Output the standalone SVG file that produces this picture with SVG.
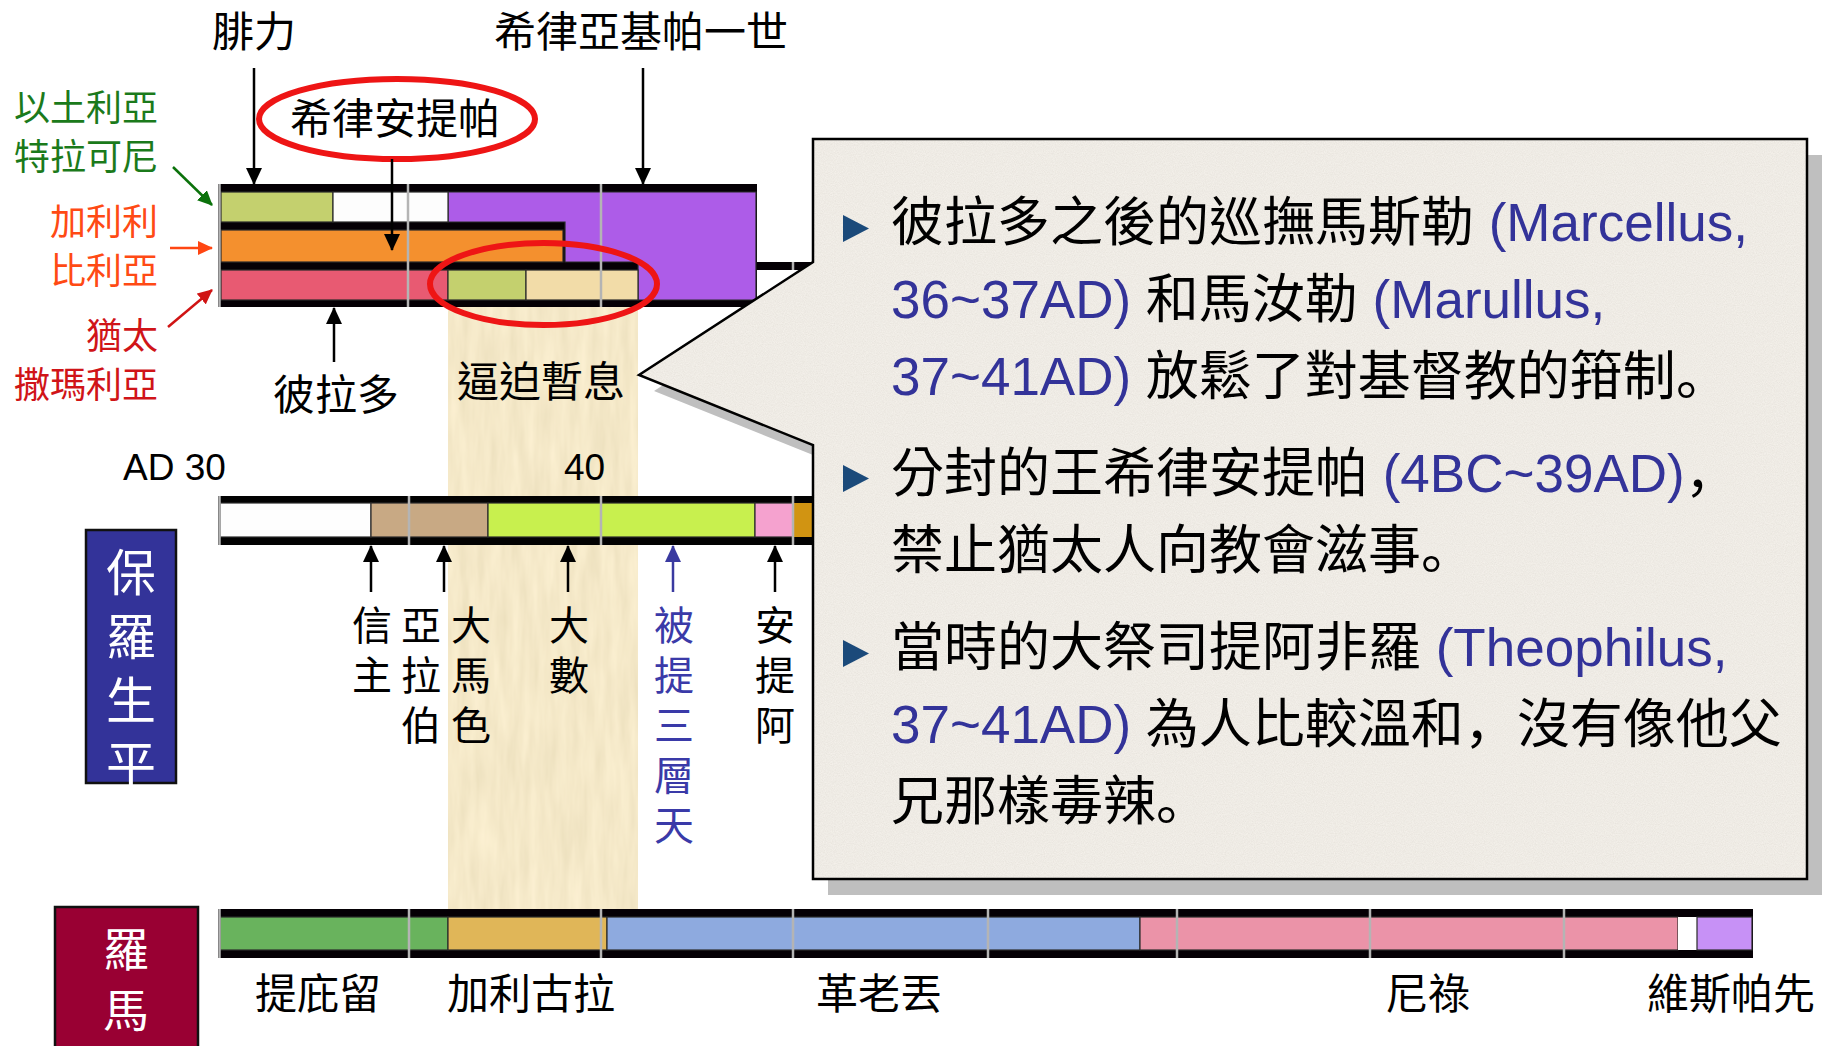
<svg xmlns="http://www.w3.org/2000/svg" width="1822" height="1046" viewBox="0 0 1822 1046">
<defs>
<style>
text{font-family:"Liberation Sans","Noto Sans CJK TC",sans-serif}
.cjk{font-family:"Noto Sans CJK TC",sans-serif}
.lbl{font-size:42px;fill:#000}
.side{font-size:36px;text-anchor:end}
.vt{font-family:"Noto Sans CJK TC",sans-serif;writing-mode:vertical-rl;text-orientation:upright}
.vl{font-size:40px;letter-spacing:10px;fill:#000}
.call{font-size:53px;fill:#000}
.b{fill:#333399}
.p{font-family:"Noto Sans CJK JP",sans-serif}
.grid{stroke:#b4b4b4;stroke-width:2.5}
.cell{stroke:#2a2a2a;stroke-width:1.2}
.arr{stroke:#000;stroke-width:2.5;fill:none}
.wt{fill:#fff}
</style>
<marker id="ah" markerUnits="userSpaceOnUse" viewBox="0 0 17 16" markerWidth="17" markerHeight="16" refX="16" refY="8" orient="auto"><path d="M0,0 L17,8 L0,16 z" fill="#000"/></marker>
<marker id="ahb" markerUnits="userSpaceOnUse" viewBox="0 0 17 16" markerWidth="17" markerHeight="16" refX="16" refY="8" orient="auto"><path d="M0,0 L17,8 L0,16 z" fill="#3a3aa0"/></marker>
<marker id="ahg" markerUnits="userSpaceOnUse" viewBox="0 0 15 14" markerWidth="15" markerHeight="14" refX="14" refY="7" orient="auto"><path d="M0,0 L15,7 L0,14 z" fill="#0b720b"/></marker>
<marker id="aho" markerUnits="userSpaceOnUse" viewBox="0 0 15 14" markerWidth="15" markerHeight="14" refX="14" refY="7" orient="auto"><path d="M0,0 L15,7 L0,14 z" fill="#ff4612"/></marker>
<marker id="ahr" markerUnits="userSpaceOnUse" viewBox="0 0 15 14" markerWidth="15" markerHeight="14" refX="14" refY="7" orient="auto"><path d="M0,0 L15,7 L0,14 z" fill="#d01414"/></marker>
<filter id="pap" x="0" y="0" width="100%" height="100%">
<feTurbulence type="fractalNoise" baseFrequency="0.1 0.015" numOctaves="3" seed="4" result="n"/>
<feColorMatrix in="n" type="matrix" values="0.16 0 0 0 0.83  0.16 0 0 0 0.73  0.16 0 0 0 0.5  0 0 0 0 1" result="c"/>
<feComposite in="c" in2="SourceGraphic" operator="in"/>
</filter>
<filter id="spk" x="0" y="0" width="100%" height="100%">
<feTurbulence type="fractalNoise" baseFrequency="0.9" numOctaves="2" seed="7" result="n"/>
<feColorMatrix in="n" type="matrix" values="0.14 0 0 0 0.79  0.14 0 0 0 0.76  0.14 0 0 0 0.71  0 0 0 0 1" result="c"/>
<feComposite in="c" in2="SourceGraphic" operator="in"/>
</filter>
</defs>

<rect width="1822" height="1046" fill="#fff"/>

<!-- papyrus column -->
<g id="papyrus">
<rect x="448" y="307" width="190" height="602" fill="#e8cf96"/>
<rect x="448" y="307" width="190" height="602" fill="#e8cf96" filter="url(#pap)"/>
</g>

<!-- top timeline block -->
<g id="top-block">
<rect x="218" y="184" width="539" height="123" fill="#050005"/>
<path d="M448,192 H756 V300 H638 V262 H565 V222 H448 Z" fill="#ad5ce8" class="cell"/>
<rect x="221" y="192" width="112" height="30" fill="#c4d06e" class="cell"/>
<rect x="333" y="192" width="115" height="30" fill="#fdfdfd" class="cell"/>
<rect x="221" y="230" width="342" height="32" fill="#f4902e" class="cell"/>
<rect x="221" y="270" width="227" height="30" fill="#e85a72" class="cell"/>
<rect x="448" y="270" width="78" height="30" fill="#c4d06e" class="cell"/>
<rect x="526" y="270" width="112" height="30" fill="#f2dca8" class="cell"/>
<rect x="757" y="262" width="60" height="8" fill="#050005"/>
<line x1="219.5" y1="184" x2="219.5" y2="307" class="grid"/>
<line x1="408" y1="184" x2="408" y2="307" class="grid"/>
<line x1="601" y1="184" x2="601" y2="307" class="grid"/>
<line x1="793" y1="262" x2="793" y2="270" class="grid"/>
</g>

<!-- middle bar: Paul's life -->
<g id="paul-bar">
<rect x="218" y="496" width="602" height="49" fill="#020202"/>
<rect x="220" y="503" width="151" height="34" fill="#fefefe" class="cell"/>
<rect x="371" y="503" width="117" height="34" fill="#c8a984" class="cell"/>
<rect x="488" y="503" width="267" height="34" fill="#c8f04e" class="cell"/>
<rect x="755" y="503" width="38" height="34" fill="#f5a2cf" class="cell"/>
<rect x="793" y="503" width="27" height="34" fill="#d19412"/>
<line x1="219.5" y1="496" x2="219.5" y2="545" class="grid"/>
<line x1="409" y1="496" x2="409" y2="545" class="grid"/>
<line x1="601" y1="496" x2="601" y2="545" class="grid"/>
<line x1="793" y1="496" x2="793" y2="545" class="grid"/>
</g>

<!-- bottom bar: Rome -->
<g id="rome-bar">
<rect x="218" y="909" width="1535" height="49" fill="#050005"/>
<rect x="220" y="917" width="228" height="33" fill="#69b35d" class="cell"/>
<rect x="448" y="917" width="159" height="33" fill="#e0b658" class="cell"/>
<rect x="607" y="917" width="533" height="33" fill="#8eaadf" class="cell"/>
<rect x="1140" y="917" width="538" height="33" fill="#eb93a8" class="cell"/>
<rect x="1678" y="917" width="19" height="33" fill="#ffffff"/>
<rect x="1697" y="917" width="55" height="33" fill="#c791f6" class="cell"/>
<line x1="219.5" y1="909" x2="219.5" y2="958" class="grid"/>
<line x1="409" y1="909" x2="409" y2="958" class="grid"/>
<line x1="601" y1="909" x2="601" y2="958" class="grid"/>
<line x1="793" y1="909" x2="793" y2="958" class="grid"/>
<line x1="988" y1="909" x2="988" y2="958" class="grid"/>
<line x1="1177" y1="909" x2="1177" y2="958" class="grid"/>
<line x1="1370" y1="909" x2="1370" y2="958" class="grid"/>
<line x1="1564" y1="909" x2="1564" y2="958" class="grid"/>
</g>

<!-- red highlight ellipses -->
<g id="ellipse-herod" fill="none" stroke="#ee1515" stroke-width="6">
<ellipse cx="397" cy="119" rx="138" ry="40"/>
</g>
<g id="ellipse-peace" fill="none" stroke="#ee1515" stroke-width="6">
<ellipse cx="543.5" cy="284" rx="113.5" ry="41"/>
</g>

<!-- connectors -->
<g id="connectors">
<line x1="254" y1="68" x2="254" y2="184" class="arr" marker-end="url(#ah)"/>
<line x1="643" y1="68" x2="643" y2="184" class="arr" marker-end="url(#ah)"/>
<line x1="392" y1="159" x2="392" y2="250" class="arr" marker-end="url(#ah)"/>
<line x1="334" y1="362" x2="334" y2="308" class="arr" marker-end="url(#ah)"/>
<line x1="173" y1="167" x2="212" y2="205" stroke="#0b720b" stroke-width="2.5" marker-end="url(#ahg)"/>
<line x1="170" y1="248" x2="212" y2="248" stroke="#ff4612" stroke-width="2.5" marker-end="url(#aho)"/>
<line x1="168" y1="327" x2="212" y2="290" stroke="#d01414" stroke-width="2.5" marker-end="url(#ahr)"/>
<line x1="371" y1="592" x2="371" y2="546" class="arr" marker-end="url(#ah)"/>
<line x1="444" y1="592" x2="444" y2="546" class="arr" marker-end="url(#ah)"/>
<line x1="568" y1="592" x2="568" y2="546" class="arr" marker-end="url(#ah)"/>
<line x1="673" y1="592" x2="673" y2="546" stroke="#3a3aa0" stroke-width="2.5" marker-end="url(#ahb)"/>
<line x1="775" y1="592" x2="775" y2="546" class="arr" marker-end="url(#ah)"/>
</g>

<!-- top labels -->
<g id="label-philip"><text x="212" y="47" class="lbl cjk">腓力</text></g>
<g id="label-agrippa"><text x="494" y="47" class="lbl cjk">希律亞基帕一世</text></g>
<g id="label-antipas"><text x="395" y="134" class="lbl cjk" text-anchor="middle">希律安提帕</text></g>
<g id="label-pilate"><text x="336" y="410" class="lbl cjk" text-anchor="middle">彼拉多</text></g>
<g id="label-respite"><text x="541" y="397" class="lbl cjk" text-anchor="middle" fill="#3838a8">逼迫暫息</text></g>

<!-- region labels -->
<g id="label-ituraea" fill="#1b7a1b">
<text x="158" y="121" class="side cjk">以土利亞</text>
<text x="158" y="170" class="side cjk">特拉可尼</text>
</g>
<g id="label-galilee" fill="#ff4a14">
<text x="158" y="235" class="side cjk">加利利</text>
<text x="158" y="284" class="side cjk">比利亞</text>
</g>
<g id="label-judea" fill="#d01418">
<text x="158" y="349" class="side cjk">猶太</text>
<text x="158" y="398" class="side cjk">撒瑪利亞</text>
</g>

<!-- years -->
<g id="years" font-size="37">
<text x="123" y="480">AD 30</text>
<text x="564" y="480">40</text>
</g>

<!-- Paul's life box -->
<g id="paul-box">
<rect x="86" y="530" width="90" height="253" fill="#333399" stroke="#111" stroke-width="2.5"/>
<text x="131" y="547" class="vt wt" font-size="50" letter-spacing="14">保羅生平</text>
</g>

<!-- event labels (vertical) -->
<g id="ev-conversion"><text x="372" y="605" class="vt vl">信主</text></g>
<g id="ev-arabia"><text x="421" y="605" class="vt vl">亞拉伯</text></g>
<g id="ev-damascus"><text x="471" y="605" class="vt vl">大馬色</text></g>
<g id="ev-tarsus"><text x="569" y="605" class="vt vl">大數</text></g>
<g id="ev-third-heaven"><text x="674" y="605" class="vt vl" style="fill:#3a3aa8">被提三層天</text></g>
<g id="ev-antioch"><text x="775" y="605" class="vt vl">安提阿</text></g>

<!-- Rome box -->
<g id="rome-box">
<rect x="55" y="907" width="143" height="150" fill="#990033" stroke="#111" stroke-width="2.5"/>
<text x="126" y="926" class="vt wt" font-size="46" letter-spacing="15">羅馬</text>
</g>

<!-- emperor labels -->
<g id="emperors">
<text x="255" y="1009" class="lbl cjk">提庇留</text>
<text x="447" y="1009" class="lbl cjk">加利古拉</text>
<text x="816" y="1009" class="lbl cjk">革老丟</text>
<text x="1386" y="1009" class="lbl cjk">尼祿</text>
<text x="1647" y="1009" class="lbl cjk">維斯帕先</text>
</g>

<!-- callout -->
<g id="callout">
<path d="M813,139 H1807 V879 H813 V445 L639,375 L813,262 Z" fill="#bfbfbf" transform="translate(15,16)"/>
<path d="M813,139 H1807 V879 H813 V445 L639,375 L813,262 Z" fill="#dbd4c7"/>
<path d="M813,139 H1807 V879 H813 V445 L639,375 L813,262 Z" fill="#dbd4c7" filter="url(#spk)"/>
<path d="M813,139 H1807 V879 H813 V445 L639,375 L813,262 Z" fill="none" stroke="#000" stroke-width="2.5"/>
<path d="M843,215 L869,228.5 L843,242 Z" fill="#1b4a7a"/>
<path d="M843,465 L869,478.5 L843,492 Z" fill="#1b4a7a"/>
<path d="M843,640 L869,653.5 L843,667 Z" fill="#1b4a7a"/>
<text x="891" y="241" class="call">彼拉多之後的巡撫馬斯勒<tspan class="b"> (Marcellus,</tspan></text>
<text x="891" y="318" class="call"><tspan class="b">36~37AD)</tspan> 和馬汝勒<tspan class="b"> (Marullus,</tspan></text>
<text x="891" y="395" class="call"><tspan class="b">37~41AD)</tspan> 放鬆了對基督教的箝制<tspan class="p">。</tspan></text>
<text x="891" y="492" class="call">分封的王希律安提帕<tspan class="b"> (4BC~39AD)</tspan><tspan class="p">，</tspan></text>
<text x="891" y="569" class="call">禁止猶太人向教會滋事<tspan class="p">。</tspan></text>
<text x="891" y="666" class="call">當時的大祭司提阿非羅<tspan class="b"> (Theophilus,</tspan></text>
<text x="891" y="743" class="call"><tspan class="b">37~41AD)</tspan> 為人比較溫和<tspan class="p">，</tspan>沒有像他父</text>
<text x="891" y="820" class="call">兄那樣毒辣<tspan class="p">。</tspan></text>
</g>
</svg>
